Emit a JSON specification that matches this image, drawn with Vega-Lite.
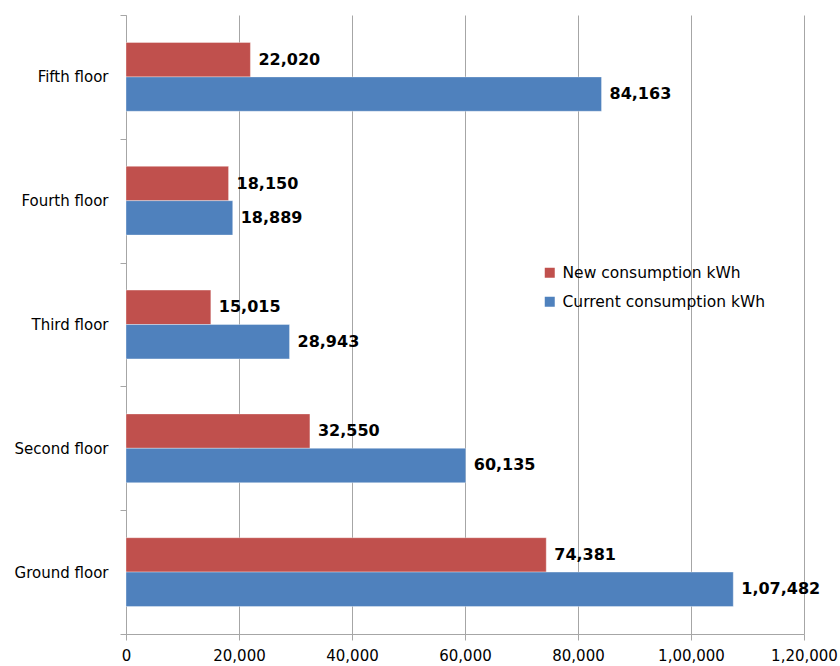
{
  "$schema": "https://vega.github.io/schema/vega-lite/v6.json",
  "width": 678,
  "height": 619,
  "autosize": {"type": "none"},
  "padding": {"left": 126, "top": 15, "right": 36, "bottom": 32},
  "background": "white",
  "config": {
    "view": {"stroke": null},
    "font": "DejaVu Sans"
  },
  "data": {
    "values": [
      {"floor": "Fifth floor", "series": "New consumption kWh", "kwh": 22020},
      {"floor": "Fifth floor", "series": "Current consumption kWh", "kwh": 84163},
      {"floor": "Fourth floor", "series": "New consumption kWh", "kwh": 18150},
      {"floor": "Fourth floor", "series": "Current consumption kWh", "kwh": 18889},
      {"floor": "Third floor", "series": "New consumption kWh", "kwh": 15015},
      {"floor": "Third floor", "series": "Current consumption kWh", "kwh": 28943},
      {"floor": "Second floor", "series": "New consumption kWh", "kwh": 32550},
      {"floor": "Second floor", "series": "Current consumption kWh", "kwh": 60135},
      {"floor": "Ground floor", "series": "New consumption kWh", "kwh": 74381},
      {"floor": "Ground floor", "series": "Current consumption kWh", "kwh": 107482}
    ]
  },
  "transform": [
    {"calculate": "datum.kwh >= 100000 ? floor(datum.kwh/100000) + ',' + slice(format(100000 + datum.kwh % 100000, ','), 1) : format(datum.kwh, ',')", "as": "label"}
  ],
  "encoding": {
    "y": {
      "field": "floor",
      "type": "nominal",
      "sort": ["Fifth floor", "Fourth floor", "Third floor", "Second floor", "Ground floor"],
      "scale": {"paddingInner": 0, "paddingOuter": 0},
      "axis": {
        "title": null,
        "tickBand": "extent",
        "domainColor": "#A6A6A6",
        "tickColor": "#A6A6A6",
        "tickSize": 6,
        "labelFont": "DejaVu Sans",
        "labelFontSize": 15,
        "labelColor": "#000000",
        "labelPadding": 12
      }
    },
    "yOffset": {
      "field": "series",
      "type": "nominal",
      "sort": ["New consumption kWh", "Current consumption kWh"],
      "scale": {"paddingInner": 0, "paddingOuter": 0.8}
    },
    "x": {
      "field": "kwh",
      "type": "quantitative",
      "scale": {"domain": [0, 120000], "nice": false},
      "axis": {
        "title": null,
        "values": [0, 20000, 40000, 60000, 80000, 100000, 120000],
        "labelExpr": "datum.value >= 100000 ? floor(datum.value/100000) + ',' + slice(format(100000 + datum.value % 100000, ','), 1) : format(datum.value, ',')",
        "grid": true,
        "gridColor": "#A6A6A6",
        "domainColor": "#A6A6A6",
        "tickColor": "#A6A6A6",
        "tickSize": 6,
        "labelFont": "DejaVu Sans",
        "labelFontSize": 15,
        "labelColor": "#000000",
        "labelPadding": 8,
        "labelFlush": false
      }
    }
  },
  "layer": [
    {
      "mark": {"type": "bar", "stroke": "white", "strokeOpacity": 0.35, "strokeWidth": 1},
      "encoding": {
        "color": {
          "field": "series",
          "type": "nominal",
          "sort": ["New consumption kWh", "Current consumption kWh"],
          "scale": {"domain": ["New consumption kWh", "Current consumption kWh"], "range": ["#C0504D", "#4F81BD"]},
          "legend": {
            "title": null,
            "orient": "none",
            "legendX": 416,
            "legendY": 250,
            "symbolType": "square",
            "symbolSize": 100,
            "symbolStrokeWidth": 0,
            "labelFont": "DejaVu Sans",
            "labelFontSize": 15.5,
            "labelColor": "#000000",
            "labelOffset": 5,
            "labelLimit": 400,
            "rowPadding": 12
          }
        }
      }
    },
    {
      "mark": {"type": "text", "align": "left", "baseline": "middle", "dx": 8, "fontWeight": "bold", "fontSize": 16, "font": "DejaVu Sans", "color": "#000000"},
      "encoding": {
        "text": {"field": "label", "type": "nominal"}
      }
    }
  ]
}
